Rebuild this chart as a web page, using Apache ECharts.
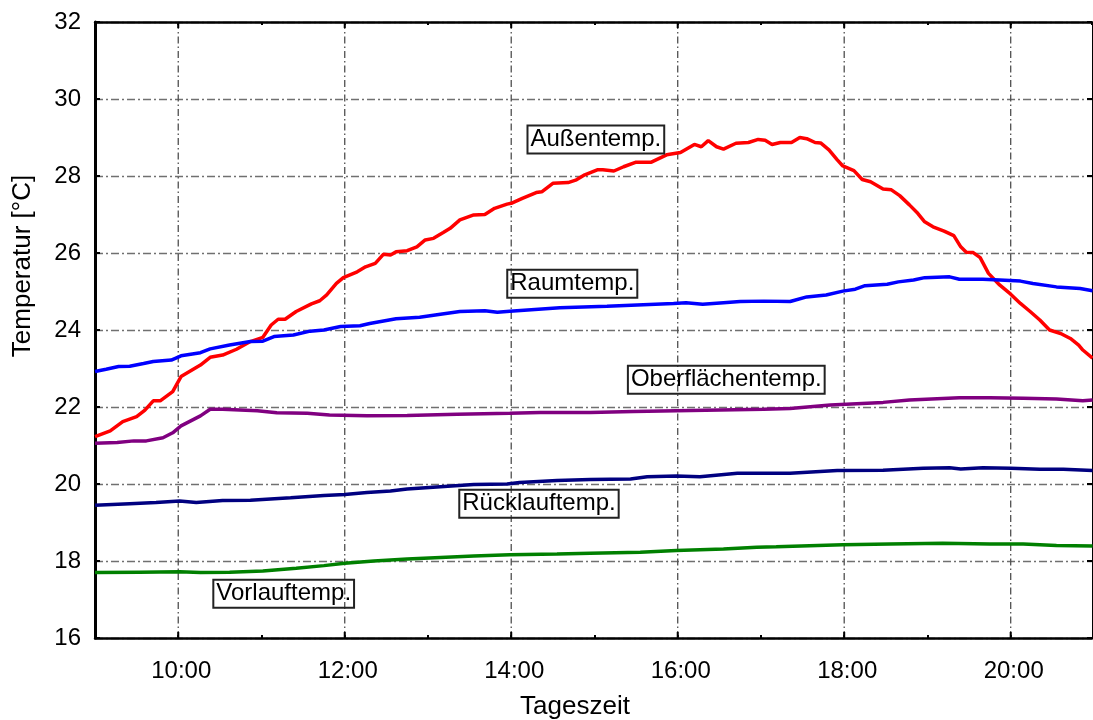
<!DOCTYPE html>
<html>
<head>
<meta charset="utf-8">
<script src="https://cdn.jsdelivr.net/npm/echarts@6/dist/echarts.min.js"></script>
<style>html,body{margin:0;padding:0;background:#fff}#c{width:1093px;height:720px}</style>
</head>
<body>
<div id="c"></div>
<script>
// x values: minutes since midnight; y values: °C
const aussenTemp = [[540,21.23],[551,21.38],[560,21.62],[570,21.75],[576,21.92],[582,22.16],[587,22.16],[596,22.40],[602,22.79],[616,23.09],[623,23.29],[632,23.35],[642,23.50],[652,23.70],[661,23.81],[667,24.13],[672,24.28],[677,24.28],[685,24.48],[696,24.68],[702,24.76],[707,24.91],[714,25.21],[719,25.36],[729,25.51],[735,25.64],[742,25.73],[748,25.97],[753,25.95],[757,26.03],[765,26.06],[772,26.16],[778,26.34],[784,26.38],[791,26.53],[796,26.64],[803,26.86],[813,26.99],[821,27.00],[828,27.16],[837,27.27],[840,27.29],[848,27.42],[858,27.57],[862,27.59],[870,27.81],[881,27.83],[887,27.90],[893,28.03],[902,28.16],[906,28.16],[914,28.13],[921,28.24],[930,28.36],[941,28.36],[952,28.55],[962,28.61],[972,28.82],[977,28.76],[982,28.92],[988,28.76],[993,28.70],[1002,28.85],[1011,28.87],[1018,28.95],[1023,28.93],[1028,28.82],[1034,28.87],[1042,28.87],[1048,29.00],[1053,28.97],[1059,28.87],[1063,28.86],[1069,28.68],[1075,28.42],[1079,28.26],[1087,28.14],[1093,27.91],[1099,27.85],[1108,27.66],[1114,27.64],[1120,27.49],[1127,27.25],[1133,27.03],[1138,26.81],[1144,26.68],[1152,26.57],[1159,26.45],[1164,26.16],[1168,26.02],[1173,26.01],[1178,25.88],[1184,25.47],[1192,25.17],[1200,24.93],[1207,24.69],[1214,24.48],[1221,24.26],[1228,24.00],[1236,23.91],[1243,23.78],[1249,23.61],[1252,23.48],[1259,23.27]];
const raumTemp = [[540,22.92],[548,22.98],[557,23.05],[565,23.06],[575,23.13],[582,23.18],[595,23.22],[602,23.33],[616,23.41],[623,23.51],[637,23.61],[652,23.70],[661,23.71],[669,23.83],[683,23.87],[695,23.97],[705,24.00],[717,24.09],[731,24.11],[738,24.17],[757,24.29],[774,24.33],[789,24.41],[803,24.48],[821,24.50],[830,24.46],[839,24.49],[875,24.58],[909,24.62],[957,24.69],[966,24.71],[978,24.67],[993,24.71],[1005,24.74],[1022,24.75],[1041,24.74],[1043,24.76],[1053,24.86],[1067,24.91],[1079,25.01],[1088,25.06],[1095,25.15],[1111,25.19],[1119,25.25],[1130,25.30],[1138,25.36],[1156,25.38],[1163,25.32],[1180,25.32],[1192,25.30],[1207,25.27],[1216,25.21],[1233,25.12],[1250,25.08],[1259,25.02]];
const oberflaechenTemp = [[540,21.06],[556,21.08],[568,21.12],[577,21.12],[589,21.20],[596,21.33],[602,21.51],[616,21.77],[623,21.94],[632,21.94],[657,21.90],[671,21.85],[693,21.84],[709,21.79],[736,21.77],[765,21.78],[801,21.81],[839,21.84],[861,21.86],[897,21.86],[928,21.88],[959,21.90],[1022,21.94],[1041,21.96],[1070,22.05],[1108,22.12],[1127,22.18],[1163,22.24],[1185,22.24],[1209,22.23],[1233,22.21],[1252,22.16],[1259,22.18]];
const ruecklaufTemp = [[540,19.45],[565,19.49],[584,19.52],[601,19.56],[613,19.52],[632,19.57],[652,19.58],[681,19.64],[705,19.70],[720,19.73],[736,19.78],[753,19.82],[765,19.87],[789,19.93],[813,19.99],[837,20.00],[846,20.04],[873,20.09],[897,20.12],[926,20.13],[938,20.19],[959,20.21],[976,20.19],[1003,20.28],[1041,20.28],[1075,20.35],[1108,20.36],[1137,20.41],[1156,20.42],[1164,20.39],[1180,20.42],[1200,20.41],[1221,20.38],[1238,20.38],[1259,20.35]];
const vorlaufTemp = [[540,17.70],[572,17.71],[601,17.72],[616,17.70],[637,17.71],[661,17.74],[685,17.81],[705,17.88],[720,17.94],[741,18.00],[765,18.05],[789,18.09],[813,18.13],[839,18.16],[873,18.18],[897,18.20],[933,18.23],[959,18.27],[993,18.31],[1017,18.36],[1031,18.37],[1079,18.42],[1113,18.44],[1151,18.46],[1185,18.44],[1209,18.44],[1233,18.40],[1259,18.39]];

const seriesNames = ['Außentemp.', 'Raumtemp.', 'Oberflächentemp.', 'Rücklauftemp.', 'Vorlauftemp.'];
const seriesColors = ['#ff0000', '#0000ff', '#800080', '#000080', '#008000'];
// annotation anchor (centre of label box) in data units
const labelTimes = [901, 884, 995, 860, 676];
const labelTemps = [28.95, 25.20, 22.71, 19.49, 17.15];

const xMin = 540, xMax = 1258.6, xStep = 60;
const majorHours = [600, 720, 840, 960, 1080, 1200];
const yMin = 16, yMax = 32, yStep = 2;

const FONT = '"Liberation Sans", Arial, sans-serif';
const chart = echarts.init(document.getElementById('c'));
const allData = [aussenTemp, raumTemp, oberflaechenTemp, ruecklaufTemp, vorlaufTemp];

function fmtHour(v) {
  if (v % 120 !== 0) return '';
  const h = v / 60;
  return (h < 10 ? '0' + h : '' + h) + ':00';
}

const lineSeries = allData.map((d, i) => ({
  type: 'line',
  name: seriesNames[i],
  data: d,
  xAxisIndex: 0,
  yAxisIndex: 0,
  showSymbol: false,
  symbol: 'none',
  smooth: false,
  clip: true,
  z: 3,
  lineStyle: { color: seriesColors[i], width: 3.5 },
  itemStyle: { color: seriesColors[i] },
  markPoint: {
    silent: true,
    symbol: 'rect',
    symbolSize: 0,
    data: [{
      coord: [labelTimes[i], labelTemps[i]],
      label: {
        show: true,
        position: 'inside',
        formatter: seriesNames[i],
        color: '#000',
        fontFamily: FONT,
        fontSize: 24,
        borderColor: '#222',
        borderWidth: 1,
        padding: [3, 3, 1, 3],
        backgroundColor: 'transparent'
      }
    }]
  }
}));

const gridSeries = {
  type: 'custom',
  xAxisIndex: 0,
  yAxisIndex: 0,
  silent: true,
  clip: false,
  z: 1,
  data: majorHours.map(v => [v, yMin]),
  renderItem: function (params, api) {
    const v = api.value(0);
    const top = api.coord([v, yMax]);
    const bot = api.coord([v, yMin]);
    return {
      type: 'group',
      children: [
        { type: 'line', shape: { x1: top[0], y1: top[1], x2: bot[0], y2: bot[1] },
          style: { stroke: '#505050', lineWidth: 1.3, lineDash: [7, 3, 1.5, 3] } },
        { type: 'line', shape: { x1: top[0], y1: top[1], x2: top[0], y2: top[1] + 6 },
          style: { stroke: '#000', lineWidth: 2 } },
        { type: 'line', shape: { x1: bot[0], y1: bot[1], x2: bot[0], y2: bot[1] - 6 },
          style: { stroke: '#000', lineWidth: 2 } }
      ]
    };
  }
};

const option = {
  animation: false,
  backgroundColor: '#fff',
  grid: { left: 95, top: 22, width: 997, height: 616, containLabel: false },
  xAxis: [{
    type: 'value', position: 'bottom', min: xMin, max: xMax, interval: xStep,
    axisLine: { show: true, lineStyle: { color: '#000', width: 2.5 } },
    axisTick: { show: true, inside: true, length: 3, lineStyle: { color: '#000', width: 2 } },
    axisLabel: { formatter: fmtHour, color: '#000', fontFamily: FONT, fontSize: 24, margin: 21,
      showMaxLabel: false, padding: [0, 0, 0, 6] },
    splitLine: { show: false }
  }, {
    type: 'value', position: 'top', min: xMin, max: xMax, interval: xStep,
    axisLine: { show: true, lineStyle: { color: '#000', width: 2.5 } },
    axisTick: { show: true, inside: true, length: 3, lineStyle: { color: '#000', width: 2 } },
    axisLabel: { show: false },
    splitLine: { show: false }
  }],
  yAxis: [{
    type: 'value', position: 'left', min: yMin, max: yMax, interval: yStep,
    axisLine: { show: true, lineStyle: { color: '#000', width: 3 } },
    axisTick: { show: true, inside: true, length: 5, lineStyle: { color: '#000', width: 2 } },
    axisLabel: { color: '#000', fontFamily: FONT, fontSize: 24, margin: 14 },
    splitLine: { show: true, lineStyle: { color: '#707070', width: 1.3, type: [8, 3, 2, 3] } }
  }, {
    type: 'value', position: 'right', min: yMin, max: yMax, interval: yStep,
    axisLine: { show: true, lineStyle: { color: '#000', width: 1 } },
    axisTick: { show: true, inside: true, length: 5, lineStyle: { color: '#000', width: 2 } },
    axisLabel: { show: false },
    splitLine: { show: false }
  }],
  graphic: [{
    type: 'text', x: 23, y: 266, rotation: Math.PI / 2,
    style: { text: 'Temperatur [°C]', font: '26px ' + FONT, fill: '#000', align: 'center', verticalAlign: 'middle' }
  }, {
    type: 'text', x: 575, y: 707,
    style: { text: 'Tageszeit', font: '26px ' + FONT, fill: '#000', align: 'center', verticalAlign: 'middle' }
  }],
  series: [gridSeries].concat(lineSeries)
};
chart.setOption(option);
</script>
</body>
</html>
